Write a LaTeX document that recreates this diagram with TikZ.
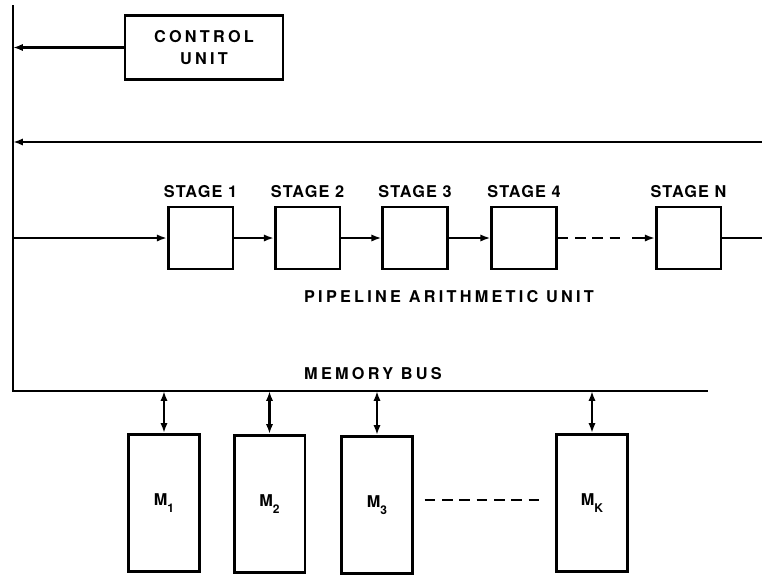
\documentclass[tikz,border=0pt]{standalone}
\usepackage{fontspec}
\setmainfont{TeX Gyre Heros}[LetterSpace=20]
\usepackage{tikz}
\usetikzlibrary{positioning,calc,arrows.meta}
\newcommand{\memlbl}[1]{M\raisebox{-0.75ex}{\small #1}}

\begin{document}
\begin{tikzpicture}[x=0.75pt,y=-0.75pt,font=\fontsize{12.2}{14}\selectfont\bfseries,
  line width=1.6pt,
  bx/.style={draw,line width=2pt,inner sep=0pt,align=center},
  stagebox/.style={bx,minimum width=48.5pt,minimum height=46.5pt},
  membox/.style={bx,minimum width=53pt,minimum height=103pt},
  lbl/.style={inner sep=1pt},
  stagelbl/.style={lbl,font=\fontsize{12.2}{14}\selectfont\bfseries\addfontfeature{LetterSpace=7}},
  arr/.style={-{Latex[length=2.6mm,width=1.9mm]}},
  darr/.style={{Latex[length=2.6mm,width=1.9mm]}-{Latex[length=2.6mm,width=1.9mm]}}]
  \useasboundingbox (0,0) rectangle (762,575);
  % left trunk and buses
  \coordinate (lt) at (13,5);
  \coordinate (lb) at (13,391);
  \coordinate (busr) at (708,391);
  \coordinate (ctlr) at (762,142);
  \coordinate (pin) at (13,238);
  \coordinate (pout) at (762,238);
  \coordinate (dn) at (632,238);
  \coordinate (md) at (0,500);
  \draw (lt) -- (lb) -- (busr);
  % control unit
  \node[bx,minimum width=118.5pt,minimum height=48pt] (cu) at (204,47.5) {CONTROL\\[2pt]UNIT};
  \draw[arr] (cu.west) -- (cu.west -| lt);
  \draw[arr] (ctlr) -- (ctlr -| lt);
  % pipeline stages
  \node[stagebox] (s1) at (200.5,238) {};
  \node[stagebox] (s2) at (307.5,238) {};
  \node[stagebox] (s3) at (415,238) {};
  \node[stagebox] (s4) at (524,238) {};
  \node[stagebox] (sn) at (688.5,238) {};
  \node[stagelbl,above=4pt of s1] {STAGE 1};
  \node[stagelbl,above=4pt of s2] {STAGE 2};
  \node[stagelbl,above=4pt of s3] {STAGE 3};
  \node[stagelbl,above=4pt of s4] {STAGE 4};
  \node[stagelbl,above=4pt of sn] {STAGE N};
  \draw[arr] (pin) -- (s1);
  \draw[arr] (s1) -- (s2);
  \draw[arr] (s2) -- (s3);
  \draw[arr] (s3) -- (s4);
  \draw[dashed,dash pattern=on 8pt off 5pt] (s4) -- ($(dn)+(-8,0)$);
  \draw[arr] (dn) -- (sn);
  \draw (sn) -- (pout);
  \node[lbl] (pau) at (449,297) {PIPELINE ARITHMETIC UNIT};
  % memory bus and modules
  \node[lbl] (mb) at (373,374) {MEMORY BUS};
  \node[membox] (m1) at (164,503) {\memlbl{1}};
  \node[membox] (m2) at (269.5,504) {\memlbl{2}};
  \node[membox] (m3) at (377,505) {\memlbl{3}};
  \node[membox] (mk) at (592,503) {\memlbl{K}};
  \foreach \m in {m1,m2,m3,mk}
    \draw[darr] (\m.north |- lb) -- (\m.north);
  \draw[dashed,dash pattern=on 8pt off 5pt] ($(m3.east |- md)+(11,0)$) -- ($(mk.west |- md)+(-12,0)$);
\end{tikzpicture}
\end{document}
